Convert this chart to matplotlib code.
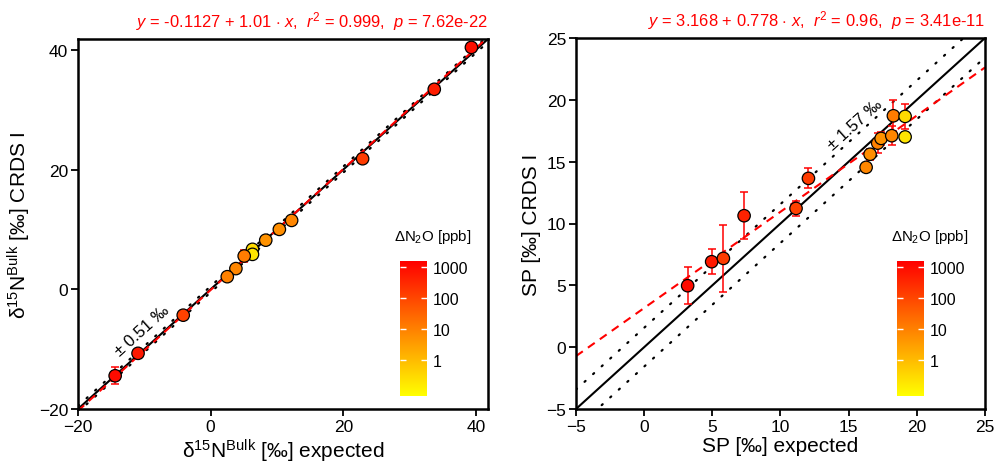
import numpy as np
import matplotlib
matplotlib.use("Agg")
import matplotlib.pyplot as plt
from matplotlib.colors import LogNorm
from matplotlib.cm import ScalarMappable

plt.rcParams['font.family'] = ['Liberation Sans', 'DejaVu Sans']
plt.rcParams['mathtext.fontset'] = 'custom'
plt.rcParams['mathtext.rm'] = 'Liberation Sans'
plt.rcParams['mathtext.it'] = 'Liberation Sans:italic'
plt.rcParams['mathtext.bf'] = 'Liberation Sans:bold'

# delta15N bulk panel
bulk_exp = [39.3, 33.7, 22.9, 12.2, 10.35, 8.3, 6.3, 6.3, 5.05, 3.8, 2.5, -4.14, -10.95, -14.4]
bulk_crds = [40.4, 33.4, 21.8, 11.5, 10.0, 8.2, 6.67, 5.83, 5.55, 3.45, 2.1, -4.33, -10.7, -14.45]
bulk_err = [0.4, 0.4, 0.4, 0.3, 0.3, 0.3, 0.4, 0.3, 1.0, 0.3, 0.3, 0.4, 0.5, 1.4]
bulk_dn2o = [900, 500, 150, 8, 6, 5, 0.3, 0.2, 12, 8, 10, 120, 600, 1000]
bulk_fit = (-0.1127, 1.01)
bulk_band = 0.51

# site preference panel
sp_exp = [3.19, 4.95, 5.81, 7.33, 11.14, 12.05, 16.28, 16.57, 17.13, 17.38, 18.16, 18.28, 19.14, 19.14]
sp_crds = [4.97, 6.91, 7.18, 10.63, 11.22, 13.65, 14.54, 15.6, 16.5, 16.88, 17.1, 18.71, 18.66, 17.0]
sp_err = [1.5, 1.0, 2.7, 1.9, 0.6, 0.8, 0.3, 0.45, 0.8, 0.5, 0.75, 1.25, 1.0, 0.3]
sp_dn2o = [1000, 600, 150, 400, 120, 150, 8, 6, 10, 5, 8, 12, 0.3, 0.2]
sp_fit = (3.168, 0.778)
sp_band = 1.57

norm = LogNorm(vmin=0.07, vmax=1560)
cmap = plt.get_cmap('autumn_r')

fig = plt.figure(figsize=(9.95, 4.64), dpi=100)
ax1 = fig.add_axes([78/995, 54/464, 410/995, 370/464])
ax2 = fig.add_axes([576/995, 54/464, 409/995, 371/464])


def panel(ax, x, y, yerr, c, fit, band, lim, ticks, title, band_pos):
    xs = np.array(lim)
    ax.plot(xs, xs, color='black', lw=1.5, zorder=1)
    for s in (-1, 1):
        ax.plot(xs, xs + s * band, color='black', lw=1.6,
                linestyle=(0, (0.6, 4.6)), dash_capstyle='round', zorder=1)
    ax.plot(xs, fit[0] + fit[1] * xs, color='red', lw=1.5,
            linestyle=(0, (4, 3)), zorder=2)
    ax.errorbar(x, y, yerr=yerr, fmt='none', ecolor='red', elinewidth=1.1,
                capsize=3, capthick=1.1, zorder=3)
    ax.scatter(x, y, c=c, cmap=cmap, norm=norm, s=80, edgecolors='black',
               linewidths=0.9, zorder=4)
    ax.text(band_pos[0], band_pos[1], '± %.2f ‰' % band, rotation=42,
            ha='center', va='center', fontsize=12)
    ax.set_xlim(lim)
    ax.set_ylim(lim)
    ax.set_xticks(ticks)
    ax.set_yticks(ticks)
    ax.tick_params(direction='out', length=5, width=1.3, labelsize=12.5, pad=2)
    for sp in ax.spines.values():
        sp.set_linewidth(1.8)
    ax.set_title(title, loc='right', color='red', fontsize=11.9, pad=9)


panel(ax1, bulk_exp, bulk_crds, bulk_err, bulk_dn2o, bulk_fit, bulk_band,
      (-20, 41.8), [-20, 0, 20, 40],
      r'$y$ = -0.1127 + 1.01 $\cdot$ $x$,  $r^2$ = 0.999,  $p$ = 7.62e-22',
      (-10.4, -6.9))
panel(ax2, sp_exp, sp_crds, sp_err, sp_dn2o, sp_fit, sp_band,
      (-5, 25), [-5, 0, 5, 10, 15, 20, 25],
      r'$y$ = 3.168 + 0.778 $\cdot$ $x$,  $r^2$ = 0.96,  $p$ = 3.41e-11',
      (15.5, 18.0))

ax1.set_xlabel('δ$^{15}$N$^{\mathrm{Bulk}}$ [‰] expected', fontsize=15, labelpad=2)
ax1.set_ylabel('δ$^{15}$N$^{\mathrm{Bulk}}$ [‰] CRDS I', fontsize=15, labelpad=4)
ax2.set_xlabel('SP [‰] expected', fontsize=15, labelpad=2)
ax2.set_ylabel('SP [‰] CRDS I', fontsize=15, labelpad=4)

# colour legends
sm = ScalarMappable(norm=norm, cmap=cmap)
for cx, tx in ((400, 433), (897, 930)):
    cax = fig.add_axes([cx/995, 67/464, 27/995, 135/464])
    cb = fig.colorbar(sm, cax=cax)
    cb.outline.set_visible(False)
    cb.set_ticks([1, 10, 100, 1000], labels=['1', '10', '100', '1000'])
    cax.minorticks_off()
    cax.tick_params(direction='in', color='white', length=4, width=1,
                    left=True, right=True, labelsize=11.5, pad=4)
    fig.text(tx/995, 1 - 237/464, 'ΔN$_2$O [ppb]', ha='center', va='center',
             fontsize=10.8)

fig.savefig('out.png', dpi=100)
